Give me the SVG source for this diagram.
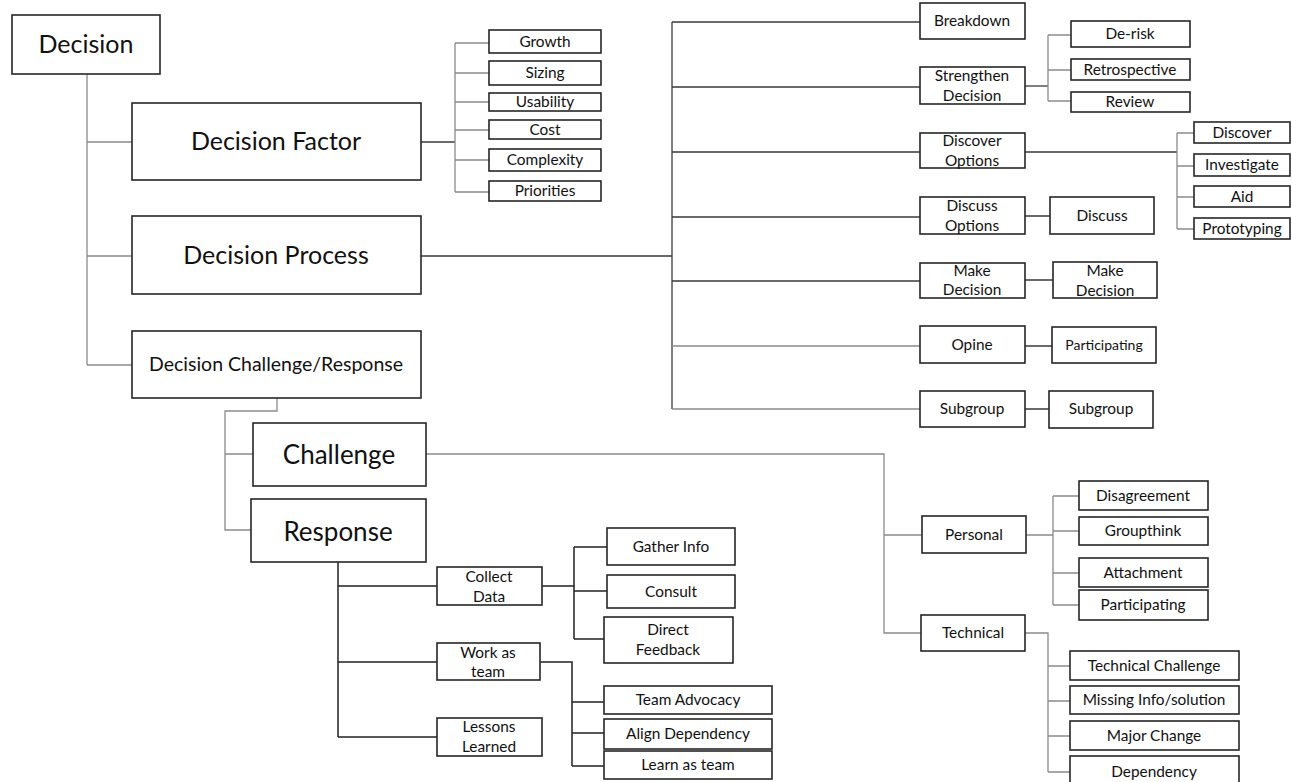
<svg xmlns="http://www.w3.org/2000/svg" width="1292" height="782" viewBox="0 0 1292 782">
<style>
.b{fill:#fff;stroke:#262626;stroke-width:1.6}
text{font-family:Lato,"Open Sans",sans-serif;fill:#111;text-anchor:middle}
.s{font-size:15.4px}
.xs{font-size:14px}
.m{font-size:19.5px}
.l{font-size:25px}
.xl{font-size:26px}
.g{fill:none;stroke:#8a8a8a;stroke-width:1.3}
.d{fill:none;stroke:#3a3a3a;stroke-width:1.3}
.k{fill:none;stroke:#222;stroke-width:1.5}
</style>
<rect width="1292" height="782" fill="#fff"/>
<g id="connectors">
<path class="g" d="M87 74V365M87 142H132M87 256H132M87 365H132"/>
<path class="d" d="M421 142H455"/>
<path class="g" d="M455 43V192M455 43H489M455 73H489M455 102H489M455 130H489M455 160H489M455 192H489"/>
<path class="d" d="M421 256H672M672 22V409M672 22H920M672 87H920M672 152H920M672 217H920M672 281H920"/>
<path class="g" d="M672 346H920M672 409H920"/>
<path class="d" d="M1025 86H1048"/>
<path class="g" d="M1048 35V101M1048 35H1071M1048 70H1071M1048 101H1071"/>
<path class="d" d="M1025 152H1177"/>
<path class="g" d="M1177 133V229M1177 133H1194M1177 166H1194M1177 197H1194M1177 229H1194"/>
<path class="d" d="M1025 216H1050M1025 280H1053M1025 346H1052M1025 409H1049"/>
<path class="g" d="M277 398V411H225V530H251M225 411V454H253"/>
<path class="g" d="M426 454H884V633H921M884 535H922"/>
<path class="g" d="M1026 535H1053M1053 496V605M1053 496H1079M1053 531H1079M1053 573H1079M1053 605H1079"/>
<path class="g" d="M1025 633H1048V772M1048 666H1070M1048 701H1070M1048 736H1070M1048 772H1070"/>
<path class="k" d="M338 562V737M338 586H437M338 662H437M338 737H437"/>
<path class="k" d="M542 586H574M574 547V639M574 547H607M574 591H607M574 639H604"/>
<path class="k" d="M540 662H572V766M572 702H604M572 733H604M572 766H604"/>
</g>
<g id="decision"><rect class="b" x="12" y="15" width="148" height="59"/><text class="l" x="86" y="53">Decision</text></g>
<g id="decision-factor"><rect class="b" x="132" y="103" width="289" height="77"/><text class="l" x="276" y="150">Decision Factor</text></g>
<g id="growth"><rect class="b" x="489" y="30" width="112" height="23"/><text class="s" x="545" y="47">Growth</text></g>
<g id="sizing"><rect class="b" x="489" y="61" width="112" height="24"/><text class="s" x="545" y="78">Sizing</text></g>
<g id="usability"><rect class="b" x="489" y="93" width="112" height="18"/><text class="s" x="545" y="107">Usability</text></g>
<g id="cost"><rect class="b" x="489" y="120" width="112" height="19"/><text class="s" x="545" y="135">Cost</text></g>
<g id="complexity"><rect class="b" x="489" y="149" width="112" height="22"/><text class="s" x="545" y="165">Complexity</text></g>
<g id="priorities"><rect class="b" x="489" y="181" width="112" height="20"/><text class="s" x="545" y="196">Priorities</text></g>
<g id="decision-process"><rect class="b" x="132" y="216" width="289" height="78"/><text class="l" x="276" y="264">Decision Process</text></g>
<g id="breakdown"><rect class="b" x="920" y="3" width="105" height="36"/><text class="s" x="972" y="26">Breakdown</text></g>
<g id="strengthen"><rect class="b" x="920" y="67" width="105" height="37"/><text class="s" x="972" y="81">Strengthen</text><text class="s" x="972" y="101">Decision</text></g>
<g id="de-risk"><rect class="b" x="1071" y="21" width="119" height="26"/><text class="s" x="1130" y="39">De-risk</text></g>
<g id="retrospective"><rect class="b" x="1071" y="59" width="119" height="21"/><text class="s" x="1130" y="75">Retrospective</text></g>
<g id="review"><rect class="b" x="1071" y="92" width="119" height="20"/><text class="s" x="1130" y="107">Review</text></g>
<g id="discover-options"><rect class="b" x="920" y="133" width="105" height="35"/><text class="s" x="972" y="146">Discover</text><text class="s" x="972" y="166">Options</text></g>
<g id="discover"><rect class="b" x="1194" y="122" width="96" height="21"/><text class="s" x="1242" y="138">Discover</text></g>
<g id="investigate"><rect class="b" x="1194" y="154" width="96" height="22"/><text class="s" x="1242" y="170">Investigate</text></g>
<g id="aid"><rect class="b" x="1194" y="186" width="96" height="21"/><text class="s" x="1242" y="202">Aid</text></g>
<g id="prototyping"><rect class="b" x="1194" y="218" width="96" height="21"/><text class="s" x="1242" y="234">Prototyping</text></g>
<g id="discuss-options"><rect class="b" x="920" y="197" width="105" height="37"/><text class="s" x="972" y="211">Discuss</text><text class="s" x="972" y="231">Options</text></g>
<g id="discuss"><rect class="b" x="1050" y="197" width="104" height="37"/><text class="s" x="1102" y="221">Discuss</text></g>
<g id="make-decision"><rect class="b" x="920" y="263" width="105" height="35"/><text class="s" x="972" y="276">Make</text><text class="s" x="972" y="295">Decision</text></g>
<g id="make-decision-2"><rect class="b" x="1053" y="262" width="104" height="36"/><text class="s" x="1105" y="276">Make</text><text class="s" x="1105" y="296">Decision</text></g>
<g id="opine"><rect class="b" x="920" y="326" width="105" height="37"/><text class="s" x="972" y="350">Opine</text></g>
<g id="participating-1"><rect class="b" x="1052" y="327" width="104" height="36"/><text class="xs" x="1104" y="350">Participating</text></g>
<g id="subgroup"><rect class="b" x="920" y="391" width="105" height="36"/><text class="s" x="972" y="414">Subgroup</text></g>
<g id="subgroup-2"><rect class="b" x="1049" y="391" width="104" height="37"/><text class="s" x="1101" y="414">Subgroup</text></g>
<g id="challenge-response"><rect class="b" x="132" y="331" width="289" height="67"/><text class="m" x="276" y="371">Decision Challenge/Response</text></g>
<g id="challenge"><rect class="b" x="253" y="423" width="173" height="63"/><text class="xl" x="339" y="464">Challenge</text></g>
<g id="response"><rect class="b" x="251" y="499" width="175" height="63"/><text class="xl" x="338" y="541">Response</text></g>
<g id="collect-data"><rect class="b" x="437" y="567" width="105" height="38"/><text class="s" x="489" y="582">Collect</text><text class="s" x="489" y="602">Data</text></g>
<g id="work-as-team"><rect class="b" x="437" y="643" width="103" height="37"/><text class="s" x="488" y="658">Work as</text><text class="s" x="488" y="677">team</text></g>
<g id="lessons-learned"><rect class="b" x="437" y="718" width="105" height="38"/><text class="s" x="489" y="732">Lessons</text><text class="s" x="489" y="752">Learned</text></g>
<g id="gather-info"><rect class="b" x="607" y="528" width="128" height="37"/><text class="s" x="671" y="552">Gather Info</text></g>
<g id="consult"><rect class="b" x="607" y="575" width="128" height="33"/><text class="s" x="671" y="597">Consult</text></g>
<g id="direct-feedback"><rect class="b" x="604" y="617" width="129" height="46"/><text class="s" x="668" y="635">Direct</text><text class="s" x="668" y="655">Feedback</text></g>
<g id="team-advocacy"><rect class="b" x="604" y="686" width="168" height="28"/><text class="s" x="688" y="705">Team Advocacy</text></g>
<g id="align-dependency"><rect class="b" x="604" y="719" width="168" height="30"/><text class="s" x="688" y="739">Align Dependency</text></g>
<g id="learn-as-team"><rect class="b" x="604" y="751" width="168" height="28"/><text class="s" x="688" y="770">Learn as team</text></g>
<g id="personal"><rect class="b" x="922" y="516" width="104" height="37"/><text class="s" x="974" y="540">Personal</text></g>
<g id="disagreement"><rect class="b" x="1079" y="481" width="129" height="29"/><text class="s" x="1143" y="501">Disagreement</text></g>
<g id="groupthink"><rect class="b" x="1079" y="517" width="129" height="28"/><text class="s" x="1143" y="536">Groupthink</text></g>
<g id="attachment"><rect class="b" x="1079" y="558" width="129" height="29"/><text class="s" x="1143" y="578">Attachment</text></g>
<g id="participating-2"><rect class="b" x="1079" y="590" width="129" height="30"/><text class="s" x="1143" y="610">Participating</text></g>
<g id="technical"><rect class="b" x="921" y="615" width="104" height="36"/><text class="s" x="973" y="638">Technical</text></g>
<g id="technical-challenge"><rect class="b" x="1070" y="651" width="169" height="29"/><text class="s" x="1154" y="671">Technical Challenge</text></g>
<g id="missing-info"><rect class="b" x="1070" y="686" width="169" height="28"/><text class="s" x="1154" y="705">Missing Info/solution</text></g>
<g id="major-change"><rect class="b" x="1070" y="721" width="169" height="29"/><text class="s" x="1154" y="741">Major Change</text></g>
<g id="dependency"><rect class="b" x="1070" y="756" width="169" height="28"/><text class="s" x="1154" y="777">Dependency</text></g>
</svg>
